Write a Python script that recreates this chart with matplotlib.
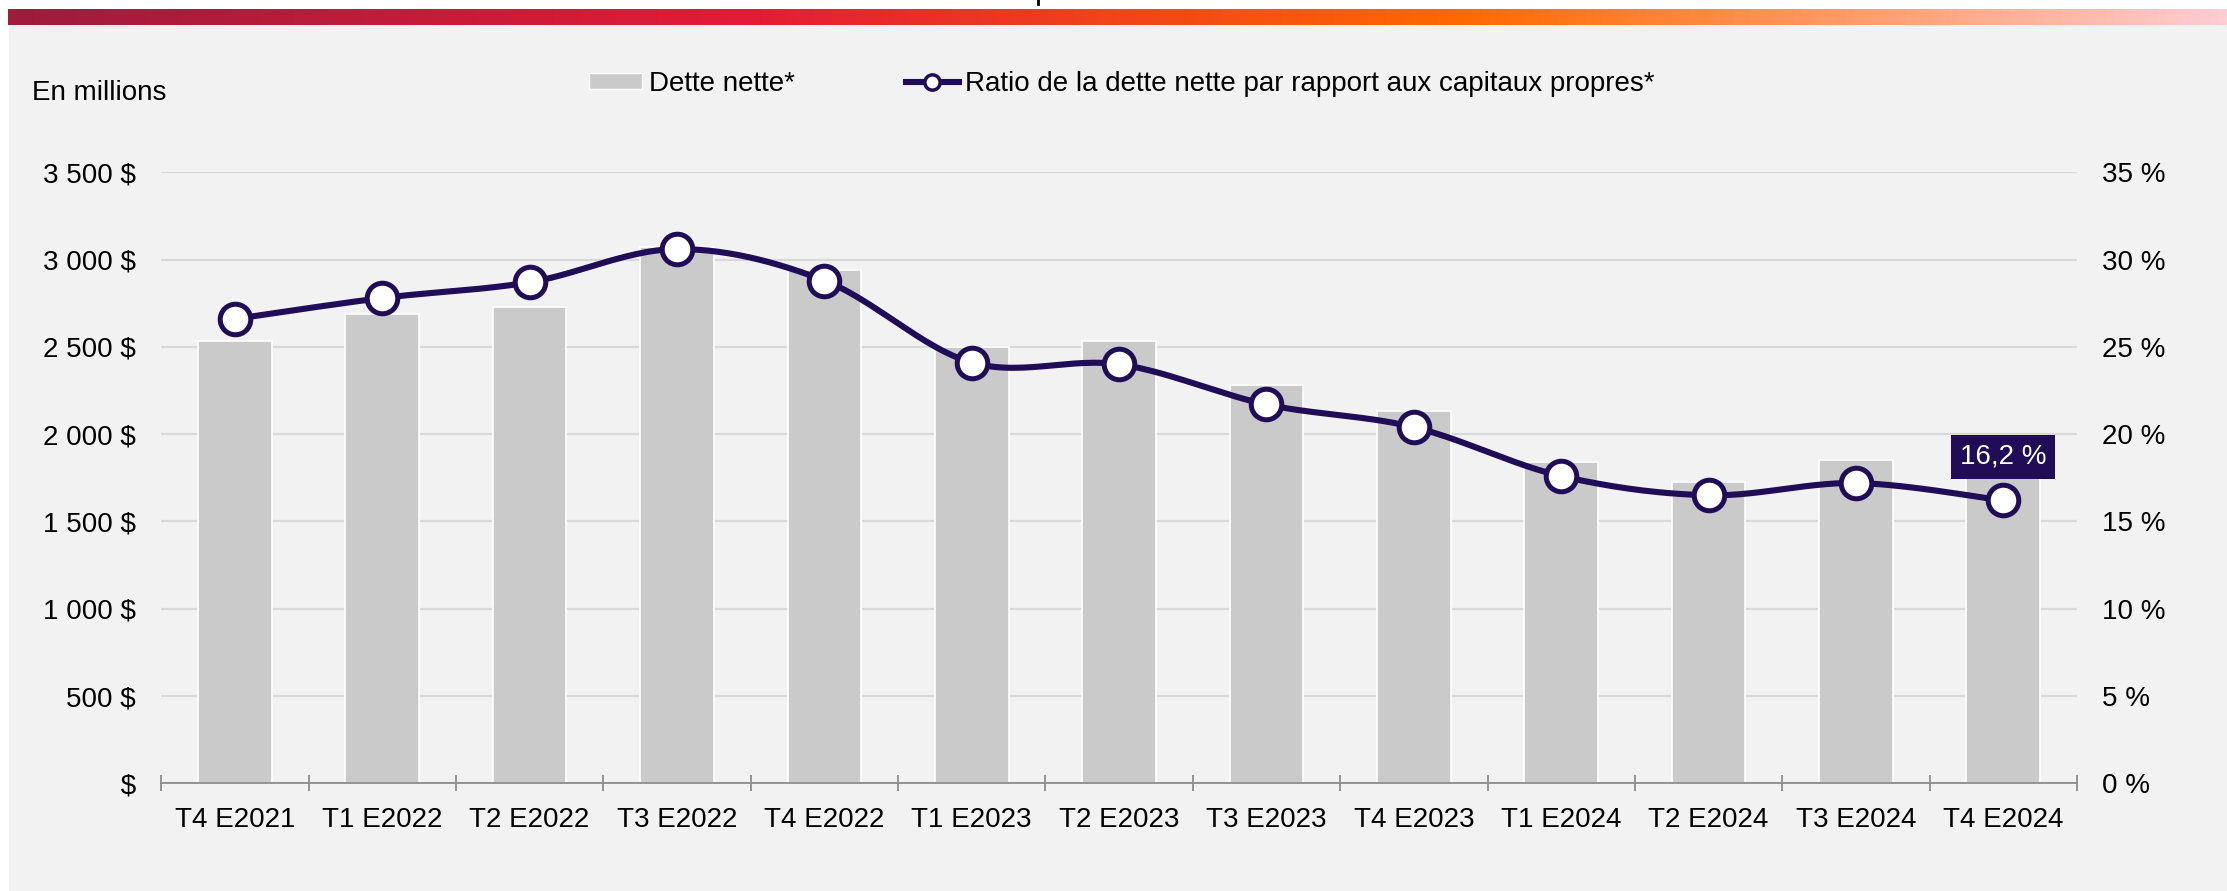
import matplotlib
matplotlib.use("Agg")
import matplotlib.pyplot as plt
import numpy as np
from matplotlib.patches import Patch, Rectangle
from matplotlib.lines import Line2D
from matplotlib.colors import LinearSegmentedColormap

plt.rcParams['font.family'] = ['Liberation Sans', 'DejaVu Sans']

# data
quarters = ["T4 E2021", "T1 E2022", "T2 E2022", "T3 E2022", "T4 E2022", "T1 E2023", "T2 E2023",
            "T3 E2023", "T4 E2023", "T1 E2024", "T2 E2024", "T3 E2024", "T4 E2024"]
net_debt = [2535, 2686, 2728, 3070, 2940, 2502, 2532, 2282, 2134, 1840, 1728, 1850, 1770]
debt_ratio = [26.6, 27.8, 28.7, 30.6, 28.8, 24.1, 24.0, 21.7, 20.4, 17.6, 16.5, 17.2, 16.2]
left_ticks = [0, 500, 1000, 1500, 2000, 2500, 3000, 3500]
right_ticks = [0, 5, 10, 15, 20, 25, 30, 35]
last_label = "16,2 %"

BAR = "#cacaca"
LINE = "#200c57"
BG = "#f2f2f2"
FS = 20


def fmt_money(v):
    if v == 0:
        return " $"
    return "{:,}".format(v).replace(",", " ") + " $"


def smooth(x, y, n=30):
    """bezier smoothing like a spreadsheet 'smoothed line'"""
    x = np.asarray(x, float)
    y = np.asarray(y, float)
    px, py = [], []
    for i in range(len(x) - 1):
        x0, y0 = (x[i - 1], y[i - 1]) if i > 0 else (x[i], y[i])
        x3, y3 = (x[i + 2], y[i + 2]) if i + 2 < len(x) else (x[i + 1], y[i + 1])
        c1x = x[i] + (x[i + 1] - x0) / 6.0
        c1y = y[i] + (y[i + 1] - y0) / 6.0
        c2x = x[i + 1] - (x3 - x[i]) / 6.0
        c2y = y[i + 1] - (y3 - y[i]) / 6.0
        t = np.linspace(0, 1, n)
        a, b, c, d = (1 - t) ** 3, 3 * (1 - t) ** 2 * t, 3 * (1 - t) * t ** 2, t ** 3
        px.extend(a * x[i] + b * c1x + c * c2x + d * x[i + 1])
        py.extend(a * y[i] + b * c1y + c * c2y + d * y[i + 1])
    return np.array(px), np.array(py)


W, H = 2227, 891
fig = plt.figure(figsize=(W / 100, H / 100), dpi=100, facecolor="white")

# grey panel and gradient band on top
fig.patches.append(Rectangle((9 / W, 0), 1 - 9 / W, (H - 25) / H, transform=fig.transFigure,
                             facecolor=BG, edgecolor="none", zorder=-10))
band = fig.add_axes([8 / W, (H - 25) / H, 1 - 8 / W, 16 / H])
cmap = LinearSegmentedColormap.from_list("band", [(0, "#9e1c3d"), (0.33, "#e31b37"),
                                                  (0.66, "#ff6a00"), (1.0, "#ffcdd4")])
band.imshow(np.linspace(0, 1, 512)[None, :], aspect="auto", cmap=cmap)
band.axis("off")
fig.add_artist(Line2D([1038 / W, 1038 / W], [1.0, (H - 4) / H], transform=fig.transFigure,
                      color="black", lw=2))

left, right = 161.2 / W, 2077 / W
bottom, top = (H - 783.3) / H, (H - 172.3) / H
ax = fig.add_axes([left, bottom, right - left, top - bottom])
ax.set_facecolor("none")
x = np.arange(len(quarters))

ax.bar(x, net_debt, width=0.5, color=BAR, edgecolor="white", linewidth=1.2, zorder=2)
ax.set_xlim(-0.5, len(quarters) - 0.5)
ax.set_ylim(0, 3500)
ax.set_yticks(left_ticks)
ax.set_yticklabels([fmt_money(v) for v in left_ticks])
ax.yaxis.grid(True, color="#d9d9d9", linewidth=1.6)
ax.set_axisbelow(True)
ax.tick_params(axis="y", length=0, pad=18, labelsize=FS, colors="black")
ax.set_xticks(x)
ax.set_xticklabels(quarters)
ax.tick_params(axis="x", which="major", length=0, pad=17, labelsize=FS)
ax.set_xticks(np.arange(-0.5, len(quarters)), minor=True)
ax.tick_params(axis="x", which="minor", direction="inout", length=11, width=1.3, color="#8c8c8c")
for s in ["top", "left", "right"]:
    ax.spines[s].set_visible(False)
ax.spines["bottom"].set_color("#8c8c8c")
ax.spines["bottom"].set_linewidth(1.3)
ax.spines["bottom"].set_zorder(3)

ax2 = ax.twinx()
ax2.set_ylim(0, 35)
ax2.set_yticks(right_ticks)
ax2.set_yticklabels(["{} %".format(v) for v in right_ticks])
ax2.tick_params(axis="y", length=0, pad=18, labelsize=FS)
for s in ["top", "left", "right", "bottom"]:
    ax2.spines[s].set_visible(False)

sx, sy = smooth(x, debt_ratio)
ax2.plot(sx, sy, color=LINE, lw=4.4, solid_capstyle="round", zorder=4)
ax2.plot(x, debt_ratio, ls="none", marker="o", ms=22, mfc="white", mec=LINE, mew=3.6, zorder=5)
ax2.text(x[-1], 18.7, last_label, ha="center", va="center", fontsize=FS, color="white", zorder=6,
         bbox=dict(boxstyle="square,pad=0.32", facecolor=LINE, edgecolor="none"))

fig.text(32 / W, (H - 100) / H, "En millions", fontsize=FS, ha="left", va="baseline")

handles = [Patch(facecolor=BAR, edgecolor="white", linewidth=1),
           Line2D([], [], color=LINE, lw=4.4, marker="o", ms=11, mfc="white", mec=LINE, mew=2.5)]
fig.legend(handles, ["Dette nette*", "Ratio de la dette nette par rapport aux capitaux propres*"],
           loc="center", bbox_to_anchor=(1122 / W, (H - 84) / H), ncol=2, frameon=False,
           fontsize=FS, handlelength=1.9, handleheight=0.5, handletextpad=0.25,
           columnspacing=4.0, borderpad=0)

fig.savefig("out.png", dpi=100, facecolor="white")
